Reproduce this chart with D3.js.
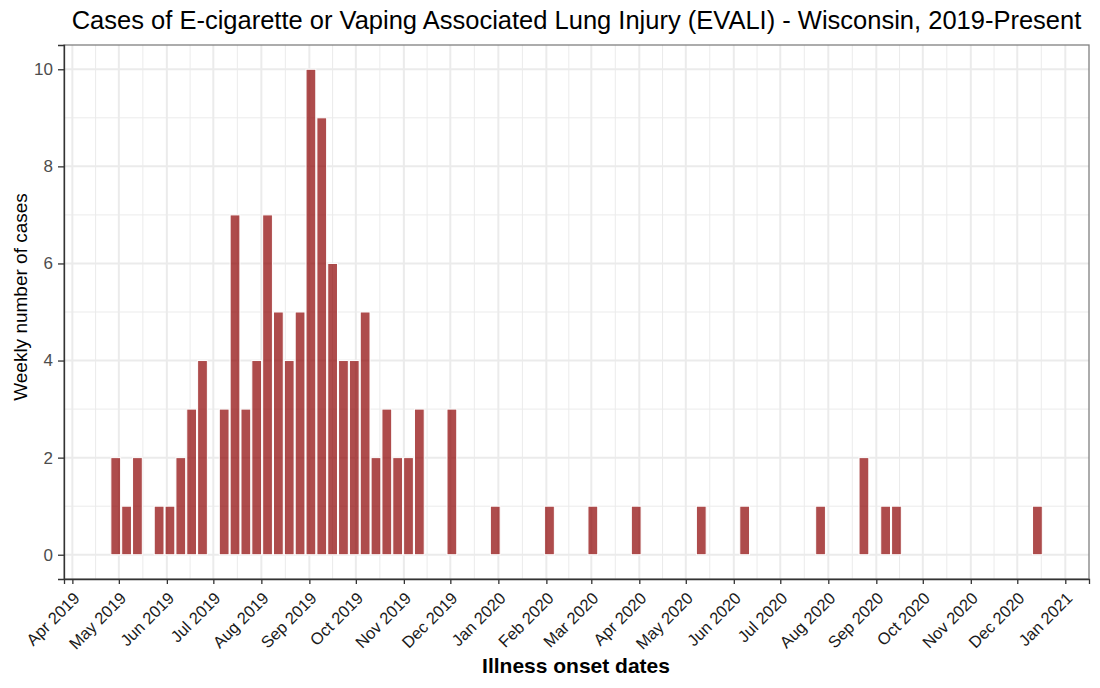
<!DOCTYPE html>
<html>
<head>
<meta charset="utf-8">
<script src="https://cdn.jsdelivr.net/npm/d3@7"></script>
<style>
  body { margin: 0; background: #fff; }
  text { font-family: "Liberation Sans", Arial, sans-serif; }
</style>
</head>
<body>
<div id="chart"></div>
<script>
// ===========================================
// Data: weekly EVALI cases (week start = Monday)
var weeks = [
  "2019-04-29","2019-05-06","2019-05-13","2019-05-20","2019-05-27","2019-06-03","2019-06-10","2019-06-17",
  "2019-06-24","2019-07-01","2019-07-08","2019-07-15","2019-07-22","2019-07-29","2019-08-05","2019-08-12",
  "2019-08-19","2019-08-26","2019-09-02","2019-09-09","2019-09-16","2019-09-23","2019-09-30","2019-10-07",
  "2019-10-14","2019-10-21","2019-10-28","2019-11-04","2019-11-11","2019-11-18","2019-11-25","2019-12-02",
  "2019-12-09","2019-12-16","2019-12-23","2019-12-30","2020-01-06","2020-01-13","2020-01-20","2020-01-27",
  "2020-02-03","2020-02-10","2020-02-17","2020-02-24","2020-03-02","2020-03-09","2020-03-16","2020-03-23",
  "2020-03-30","2020-04-06","2020-04-13","2020-04-20","2020-04-27","2020-05-04","2020-05-11","2020-05-18",
  "2020-05-25","2020-06-01","2020-06-08","2020-06-15","2020-06-22","2020-06-29","2020-07-06","2020-07-13",
  "2020-07-20","2020-07-27","2020-08-03","2020-08-10","2020-08-17","2020-08-24","2020-08-31","2020-09-07",
  "2020-09-14","2020-09-21","2020-09-28","2020-10-05","2020-10-12","2020-10-19","2020-10-26","2020-11-02",
  "2020-11-09","2020-11-16","2020-11-23","2020-11-30","2020-12-07","2020-12-14"
];

var cases = [
  2,1,2,0,1,1,2,3,
  4,0,3,7,3,4,7,5,
  4,5,10,9,6,4,4,5,
  2,3,2,2,3,0,0,3,
  0,0,0,1,0,0,0,0,
  1,0,0,0,1,0,0,0,
  1,0,0,0,0,0,1,0,
  0,0,1,0,0,0,0,0,
  0,1,0,0,0,2,0,1,
  1,0,0,0,0,0,0,0,
  0,0,0,0,0,1
];

var yTicks = [0, 2, 4, 6, 8, 10];
var yMinor = [1, 3, 5, 7, 9];
var xStart = "2019-04-01";
var xEnd = "2021-01-01";

var titleText = "Cases of E-cigarette or Vaping Associated Lung Injury (EVALI) - Wisconsin, 2019-Present";
var xTitle = "Illness onset dates";
var yTitle = "Weekly number of cases";

// ===========================================
// Set up SVG element & chart area
var svgWidth = 1100;
var svgHeight = 688;
var margin = {top: 45, right: 11, bottom: 109, left: 64};
var chartWidth = svgWidth - margin.left - margin.right;
var chartHeight = svgHeight - margin.top - margin.bottom;

var parse = d3.timeParse("%Y-%m-%d");
var data = weeks.map(function(w, i) {
  return {date: parse(w), n: cases[i]};
});

var svg = d3.select("#chart")
  .append("svg")
  .attr("width", svgWidth)
  .attr("height", svgHeight);

var g = svg.append("g")
  .attr("transform", `translate(${margin.left},${margin.top})`);

// scales
var day = 24 * 3600 * 1000;
var xscale = d3.scaleTime()
  .domain([new Date(parse(xStart).getTime() - 5.4 * day), new Date(parse(xEnd).getTime() + 15.3 * day)])
  .range([0, chartWidth]);
var yscale = d3.scaleLinear()
  .domain([-0.5, 10.5])
  .range([chartHeight, 0]);

var months = d3.timeMonth.range(parse(xStart), d3.timeDay.offset(parse(xEnd), 1));
var minorMonths = months.slice(0, -1).map(function(m, i) {
  return new Date((m.getTime() + months[i + 1].getTime()) / 2);
});
minorMonths.unshift(new Date(months[0].getTime() - (months[1].getTime() - months[0].getTime()) / 2));
minorMonths.push(new Date(months[months.length - 1].getTime() + 15.5 * day));

// gridlines
var grid = g.append("g");
grid.selectAll(".ymin").data(yMinor).enter().append("line")
  .attr("x1", 0).attr("x2", chartWidth)
  .attr("y1", d => yscale(d)).attr("y2", d => yscale(d))
  .attr("stroke", "#EBEBEB").attr("stroke-width", 1);
grid.selectAll(".xmin").data(minorMonths.filter(d => xscale(d) > 0 && xscale(d) < chartWidth)).enter().append("line")
  .attr("y1", 0).attr("y2", chartHeight)
  .attr("x1", d => xscale(d)).attr("x2", d => xscale(d))
  .attr("stroke", "#EBEBEB").attr("stroke-width", 1);
grid.selectAll(".ymaj").data(yTicks).enter().append("line")
  .attr("x1", 0).attr("x2", chartWidth)
  .attr("y1", d => yscale(d)).attr("y2", d => yscale(d))
  .attr("stroke", "#EBEBEB").attr("stroke-width", 2);
grid.selectAll(".xmaj").data(months).enter().append("line")
  .attr("y1", 0).attr("y2", chartHeight)
  .attr("x1", d => xscale(d)).attr("x2", d => xscale(d))
  .attr("stroke", "#EBEBEB").attr("stroke-width", 2);

// bars (zero weeks drawn too, they leave a white line on the baseline)
var barW = xscale(new Date(parse(weeks[0]).getTime() + 6.3 * day)) - xscale(parse(weeks[0]));
g.selectAll("rect.bar")
  .data(data)
  .enter()
  .append("rect")
  .attr("class", "bar")
  .attr("x", d => xscale(d.date) - barW / 2)
  .attr("y", d => yscale(d.n))
  .attr("width", barW)
  .attr("height", d => yscale(0) - yscale(d.n))
  .attr("fill", "#8B0000")
  .attr("fill-opacity", 0.7)
  .attr("stroke", "#ffffff")
  .attr("stroke-width", 1);

// panel border
g.append("rect")
  .attr("width", chartWidth).attr("height", chartHeight)
  .attr("fill", "none").attr("stroke", "#808080").attr("stroke-width", 1.3);

// axes
var b_axis = d3.axisBottom(xscale)
  .tickValues(months)
  .tickFormat(d3.timeFormat("%b %Y"))
  .tickSize(5).tickPadding(3);
var l_axis = d3.axisLeft(yscale)
  .tickValues(yTicks)
  .tickSize(6).tickPadding(5);

var bx = g.append("g")
  .attr("transform", `translate(0, ${chartHeight})`)
  .call(b_axis);
bx.select(".domain").attr("stroke", "#333333").attr("stroke-width", 1.3);
bx.selectAll(".tick line").attr("stroke", "#333333").attr("stroke-width", 1.3);
bx.selectAll(".tick text")
  .style("font-size", "16.5px")
  .attr("fill", "#1A1A1A")
  .attr("text-anchor", "end")
  .attr("x", 0).attr("y", 0)
  .attr("dy", "0.71em")
  .attr("transform", "translate(-0.5, 12) rotate(-45)");

var ly = g.append("g").call(l_axis);
ly.select(".domain").attr("stroke", "#333333").attr("stroke-width", 1.3);
ly.selectAll(".tick line").attr("stroke", "#333333").attr("stroke-width", 1.3);
ly.selectAll(".tick text")
  .style("font-size", "17px")
  .attr("fill", "#4D4D4D");

// titles
svg.append("text")
  .attr("x", margin.left + chartWidth / 2)
  .attr("y", 29)
  .attr("text-anchor", "middle")
  .style("font-size", "25.5px")
  .attr("fill", "black")
  .text(titleText);

svg.append("text")
  .attr("x", 576)
  .attr("y", 673)
  .attr("text-anchor", "middle")
  .style("font-size", "21px")
  .attr("font-weight", "bold")
  .attr("fill", "black")
  .text(xTitle);

svg.append("text")
  .attr("transform", "translate(27, 297) rotate(-90)")
  .attr("text-anchor", "middle")
  .style("font-size", "19px")
  .attr("fill", "black")
  .text(yTitle);
</script>
</body>
</html>
